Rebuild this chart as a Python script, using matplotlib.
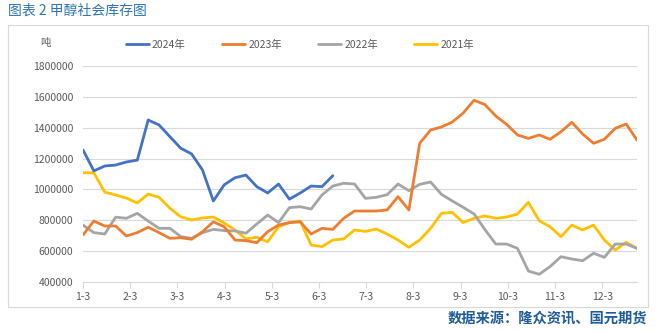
import matplotlib
matplotlib.use("Agg")
import matplotlib.pyplot as plt
import matplotlib.patches as patches
import numpy as np

plt.rcParams['font.family'] = ['Noto Sans CJK SC', 'DejaVu Sans']

# weekly methanol social inventory, tonnes (first week = Jan 3)
month_labels = ['1-3', '2-3', '3-3', '4-3', '5-3', '6-3', '7-3', '8-3', '9-3', '10-3', '11-3', '12-3']

inv_2024 = [1256000, 1120000, 1152000, 1158000, 1178000, 1190000, 1450000, 1418000,
            1342000, 1267000, 1230000, 1126000, 925000, 1030000, 1076000, 1093000,
            1018000, 977000, 1035000, 937000, 977000, 1022000, 1018000, 1089000]

inv_2023 = [705000, 795000, 763000, 763000, 698000, 720000, 755000, 720000,
            683000, 687000, 677000, 726000, 790000, 758000, 672000, 668000,
            655000, 726000, 769000, 785000, 790000, 711000, 748000, 741000,
            813000, 860000, 860000, 860000, 867000, 953000, 867000, 1300000,
            1385000, 1405000, 1437000, 1495000, 1578000, 1550000, 1476000, 1422000,
            1353000, 1331000, 1353000, 1325000, 1374000, 1435000, 1359000, 1299000,
            1325000, 1396000, 1424000, 1320000]

inv_2022 = [769000, 720000, 711000, 820000, 813000, 845000, 795000, 748000,
            748000, 694000, 683000, 720000, 741000, 733000, 731000, 716000,
            776000, 834000, 785000, 882000, 888000, 873000, 964000, 1022000,
            1040000, 1035000, 942000, 949000, 966000, 1035000, 992000, 1033000,
            1048000, 968000, 925000, 884000, 841000, 740000, 646000, 646000,
            618000, 471000, 450000, 500000, 564000, 549000, 538000, 586000,
            560000, 646000, 646000, 618000]

inv_2021 = [1108000, 1108000, 983000, 964000, 944000, 912000, 970000, 949000,
            878000, 823000, 802000, 815000, 821000, 782000, 737000, 680000,
            690000, 661000, 758000, 785000, 795000, 640000, 629000, 672000,
            679000, 737000, 728000, 743000, 711000, 672000, 625000, 672000,
            748000, 845000, 851000, 785000, 813000, 828000, 813000, 821000,
            841000, 916000, 797000, 758000, 694000, 769000, 737000, 769000,
            672000, 607000, 657000, 618000]

series = [('2024年', inv_2024, '#4472C4'),
          ('2023年', inv_2023, '#ED7D31'),
          ('2022年', inv_2022, '#A5A5A5'),
          ('2021年', inv_2021, '#FFC000')]

W, H = 657, 331
fig = plt.figure(figsize=(W / 100, H / 100), dpi=100)
ax = fig.add_axes([83 / W, 1 - 282 / H, (637 - 83) / W, (282 - 66) / H])

# draw 2021 first so newer years sit on top
for name, vals, col in reversed(series):
    ax.plot(np.arange(len(vals)), vals, color=col, lw=2.0, label=name,
            solid_joinstyle='round', solid_capstyle='round')

ax.set_xlim(0, 51)
ax.set_ylim(400000, 1800000)
ax.set_yticks(np.arange(400000, 1800001, 200000))
ax.set_yticklabels([str(v) for v in range(400000, 1800001, 200000)])
ax.set_xticks(np.arange(12) * 365 / 12 / 7)
ax.set_xticklabels(month_labels)

ax.grid(axis='y', color='#D9D9D9', lw=0.8)
ax.set_axisbelow(True)
for s in ['top', 'right', 'left']:
    ax.spines[s].set_visible(False)
ax.spines['bottom'].set_color('#D9D9D9')
ax.spines['bottom'].set_linewidth(0.8)
ax.tick_params(axis='x', colors='#D9D9D9', length=4, width=0.8, labelsize=7.5,
               labelcolor='#595959', pad=3)
ax.tick_params(axis='y', length=0, labelsize=7.5, labelcolor='#595959', pad=7)

handles, labels = ax.get_legend_handles_labels()
fig.legend(handles[::-1], labels[::-1], loc='center', ncol=4,
           bbox_to_anchor=(300 / W, 1 - 45 / H), frameon=False,
           fontsize=7.5, handlelength=2.2, handletextpad=0.3, columnspacing=3.5,
           labelcolor='#595959')

fig.text(45 / W, 1 - 43 / H, '吨', fontsize=7.5, color='#595959', ha='center', va='center')

# outer frame
fig.add_artist(patches.Rectangle((8 / W, 1 - 307 / H), 640 / W, 282 / H,
                                 transform=fig.transFigure, fill=False,
                                 edgecolor='#D9D9D9', lw=0.8))

fig.text(8 / W, 1 - 11 / H, '图表 2 甲醇社会库存图', fontsize=10, color='#2E75B6',
         ha='left', va='center', fontweight='medium')
fig.text(647 / W, 1 - 320 / H, '数据来源：隆众资讯、国元期货', fontsize=10.3,
         color='#1F5C99', ha='right', va='center', fontweight='bold')

fig.savefig('out.png', dpi=100)
